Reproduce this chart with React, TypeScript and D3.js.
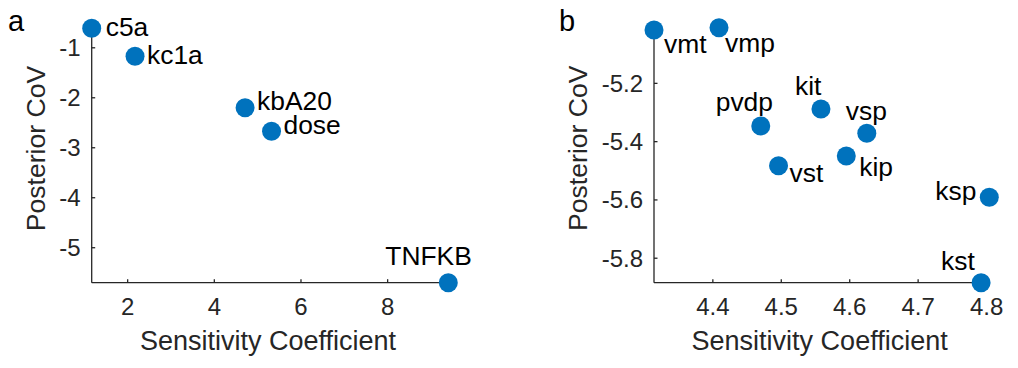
import React from 'react'
import * as d3 from 'd3'

// panel a
const namesA = ['c5a', 'kc1a', 'kbA20', 'dose', 'TNFKB']
const sensA = [1.17, 2.17, 4.71, 5.32, 9.4]
const covA = [-0.61, -1.17, -2.2, -2.67, -5.7]
const xTicksA = [2, 4, 6, 8]
const yTicksA = [-1, -2, -3, -4, -5]

// panel b
const namesB = ['vmt', 'vmp', 'pvdp', 'kit', 'vsp', 'vst', 'kip', 'ksp', 'kst']
const sensB = [4.314, 4.409, 4.47, 4.558, 4.625, 4.496, 4.595, 4.804, 4.792]
const covB = [-5.017, -5.009, -5.346, -5.288, -5.371, -5.483, -5.449, -5.591, -5.884]
const xTicksB = [4.4, 4.5, 4.6, 4.7, 4.8]
const yTicksB = [-5.2, -5.4, -5.6, -5.8]

// where each label sits relative to its marker (px)
const labelOffset: Record<string, [number, number]> = {
  c5a: [14, 8], kc1a: [12, 8], kbA20: [12, 2], dose: [12, 3], TNFKB: [-63, -18],
  vmt: [10, 23], vmp: [6, 24], pvdp: [-45, -15], kit: [-26, -14], vsp: [-21, -13],
  vst: [11, 16], kip: [13, 20], ksp: [-54, 3], kst: [-40, -13],
}

const FONT = '"Liberation Sans", Arial, Helvetica, sans-serif'
const BLUE = '#0072BD'
const AX = '#262626'

type PanelProps = {
  letter: string
  letterX: number
  names: string[]
  xs: number[]
  ys: number[]
  xTicks: number[]
  yTicks: number[]
  left: number
  right: number
  top: number
  bottom: number
  yTitleX: number
  fmt: (v: number) => string
}

const Panel = ({ letter, letterX, names, xs, ys, xTicks, yTicks, left, right, top, bottom, yTitleX, fmt }: PanelProps) => {
  const x = d3.scaleLinear().domain(d3.extent(xs) as [number, number]).range([left, right])
  const y = d3.scaleLinear().domain(d3.extent(ys) as [number, number]).range([bottom, top])
  const midY = (top + bottom) / 2 - 7

  return (
    <g fontFamily={FONT}>
      <text x={letterX} y={31} fontSize={29} fill="#000">{letter}</text>
      <line x1={left} x2={right} y1={bottom} y2={bottom} stroke={AX} strokeWidth={1.3} />
      <line x1={left} x2={left} y1={top} y2={bottom} stroke={AX} strokeWidth={1.3} />
      {xTicks.map(t => (
        <g key={'x' + t}>
          <line x1={x(t)} x2={x(t)} y1={bottom} y2={bottom - 3.5} stroke={AX} strokeWidth={1.3} />
          <text x={x(t)} y={315} textAnchor="middle" fontSize={24} fill={AX}>{fmt(t)}</text>
        </g>
      ))}
      {yTicks.map(t => (
        <g key={'y' + t}>
          <line x1={left} x2={left + 3.5} y1={y(t)} y2={y(t)} stroke={AX} strokeWidth={1.3} />
          <text x={left - 11} y={y(t)} dy="0.35em" textAnchor="end" fontSize={24} fill={AX}>{fmt(t)}</text>
        </g>
      ))}
      <text x={(left + right) / 2 - 2} y={350} textAnchor="middle" fontSize={27} fill={AX}>Sensitivity Coefficient</text>
      <text transform={`translate(${yTitleX},${midY}) rotate(-90)`} textAnchor="middle" fontSize={26.6} fill={AX}>Posterior CoV</text>
      {names.map((n, i) => (
        <g key={n}>
          <circle cx={x(xs[i])} cy={y(ys[i])} r={9.5} fill={BLUE} />
          <text x={x(xs[i]) + labelOffset[n][0]} y={y(ys[i]) + labelOffset[n][1]} fontSize={26.4} fill="#000">{n}</text>
        </g>
      ))}
    </g>
  )
}

const fmtTick = (v: number) => String(v)

export default function App() {
  return (
    <svg width={1018} height={368} style={{ position: 'absolute', left: 0, top: 0, background: '#fff' }}>
      <Panel letter="a" letterX={8} names={namesA} xs={sensA} ys={covA} xTicks={xTicksA} yTicks={yTicksA}
        left={91.7} right={448.3} top={28.3} bottom={282.7} yTitleX={45} fmt={fmtTick} />
      <Panel letter="b" letterX={559} names={namesB} xs={sensB} ys={covB} xTicks={xTicksB} yTicks={yTicksB}
        left={654} right={989.3} top={27.7} bottom={282.7} yTitleX={587} fmt={fmtTick} />
    </svg>
  )
}
